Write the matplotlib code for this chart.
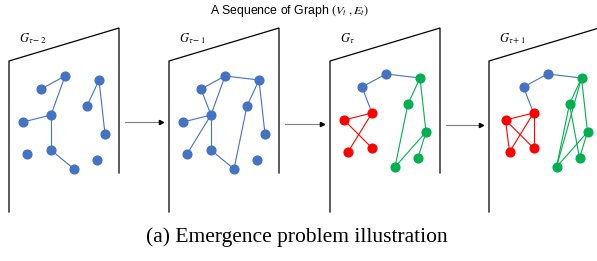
import matplotlib
matplotlib.use("Agg")
import matplotlib.pyplot as plt

# ---- data ----
title = r"A Sequence of Graph $(V_t\ ,E_t)$"
caption = "(a) Emergence problem illustration"
panel_labels = [r"$G_{\tau-2}$", r"$G_{\tau-1}$", r"$G_{\tau}$", r"$G_{\tau+1}$"]

node_names = ["A", "B", "C", "D", "E", "F", "G", "H", "I", "J", "K"]
node_x = [56, 32, 90, 78, 42, 14, 96, 18, 42, 88, 65]
node_y = [76, 89, 80, 106, 115, 122, 134, 154, 150, 160, 169]

panel_edges = [
    ["AB", "AE", "EF", "EI", "IK", "CD", "CG"],
    ["AB", "AC", "AE", "BE", "EF", "EH", "EI", "IK", "KD", "DC", "CG"],
    ["AB", "AC", "BE", "EF", "FI", "EH", "CD", "CG", "DK", "GK", "GJ"],
    ["AB", "AC", "BE", "EF", "FI", "FH", "EH", "EI", "CD", "CK", "CG",
     "DK", "DJ", "GK", "GJ"],
]
community_t = {"A": "b", "B": "b", "E": "r", "F": "r", "H": "r", "I": "r",
               "C": "g", "D": "g", "G": "g", "J": "g", "K": "g"}
panel_groups = [
    {n: "b" for n in node_names},
    {n: "b" for n in node_names},
    community_t,
    community_t,
]

# ---- layout / style ----
W, H = 597, 261
panel_x0 = [9, 169, 330, 489]
node_dx = [0, 0, 0, 2.5]
node_dy = [0, 0, -2, -2]
colors = {"b": "#4472C4", "r": "#FF0000", "g": "#00B050"}

fig = plt.figure(figsize=(W / 100, H / 100), dpi=100)
ax = fig.add_axes([0, 0, 1, 1])
ax.set_xlim(0, W)
ax.set_ylim(H, 0)
ax.axis("off")

pw = 110
for p, x0 in enumerate(panel_x0):
    # frame
    ax.plot([x0, x0, x0 + pw, x0 + pw], [212, 61, 28, 173],
            color="black", lw=0.9, solid_joinstyle="miter", zorder=1)
    ax.text(x0 + 10, 42, panel_labels[p], fontsize=9, ha="left",
            va="baseline", math_fontfamily="stix")
    pos = {n: (x0 + node_dx[p] + node_x[i], node_y[i] + node_dy[p])
           for i, n in enumerate(node_names)}
    grp = panel_groups[p]
    for e in panel_edges[p]:
        a, b = e[0], e[1]
        c = colors[grp[a]] if grp[a] == grp[b] else colors["b"]
        ax.plot([pos[a][0], pos[b][0]], [pos[a][1], pos[b][1]],
                color=c, lw=0.8, zorder=2)
    for n in node_names:
        ax.plot(pos[n][0], pos[n][1], "o", ms=6.3, color=colors[grp[n]],
                mec=colors[grp[n]], zorder=3)

# arrows between panels
for p in range(3):
    xs = panel_x0[p] + pw + 6
    xe = panel_x0[p + 1] - 6
    y = 122 + p * 1.5
    ax.plot([xs, xe - 2], [y, y], color="#7F7F7F", lw=0.8)
    ax.plot(xe - 2, y, ">", ms=3, color="black")

ax.text(290, 11, title, fontsize=8.8, ha="center", va="center",
        family="Liberation Sans", math_fontfamily="stix")
ax.text(297, 237, caption, fontsize=15.5, ha="center", va="center",
        family="Liberation Serif")

fig.savefig("out.png", dpi=100)
